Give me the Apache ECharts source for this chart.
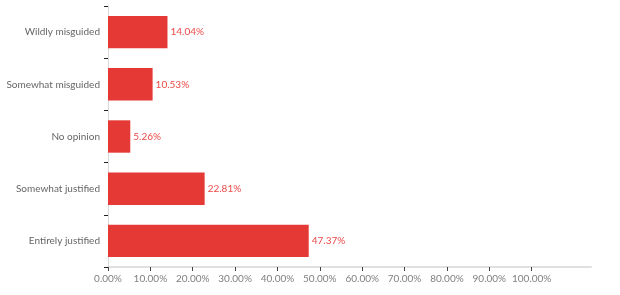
<!DOCTYPE html>
<html><head><meta charset="utf-8">
<script src="https://cdn.jsdelivr.net/npm/echarts@6/dist/echarts.min.js"></script>
<style>html,body{margin:0;padding:0;background:#fff}#c{width:620px;height:295px}</style>
</head><body><div id="c"></div>
<script>
const categories = ["Wildly misguided","Somewhat misguided","No opinion","Somewhat justified","Entirely justified"];
const values = [14.04, 10.53, 5.26, 22.81, 47.37];
const tickValues = [0,10,20,30,40,50,60,70,80,90,100];

const chart = echarts.init(document.getElementById('c'), null, {renderer:'canvas'});
chart.setOption({
  animation:false,
  textStyle:{fontFamily:'Lato'},
  grid:{left:108, right:29, top:6, bottom:28, containLabel:false},
  xAxis:{
    type:'value', min:0, max:114,
    axisLine:{show:true, lineStyle:{color:'#e0e0e0', width:2}},
    axisTick:{show:true, customValues:tickValues, length:4, lineStyle:{color:'#444'}},
    axisLabel:{customValues:tickValues, color:'#808080', fontSize:10, margin:7,
      formatter:v=>v.toFixed(2)+'%'},
    splitLine:{show:false}
  },
  yAxis:{
    type:'category', data:categories, inverse:true,
    axisLine:{show:true, lineStyle:{color:'#d8d8d8', width:1}},
    axisTick:{show:true, length:4, lineStyle:{color:'#222'}},
    axisLabel:{color:'#666', fontSize:10, margin:8}
  },
  series:[{
    type:'bar', data:values, barWidth:'62%',
    itemStyle:{color:'#e53935'},
    label:{show:true, position:'right', distance:3, color:'#ec4a47', fontSize:10,
      formatter:p=>p.value.toFixed(2)+'%'}
  }]
});
</script></body></html>
